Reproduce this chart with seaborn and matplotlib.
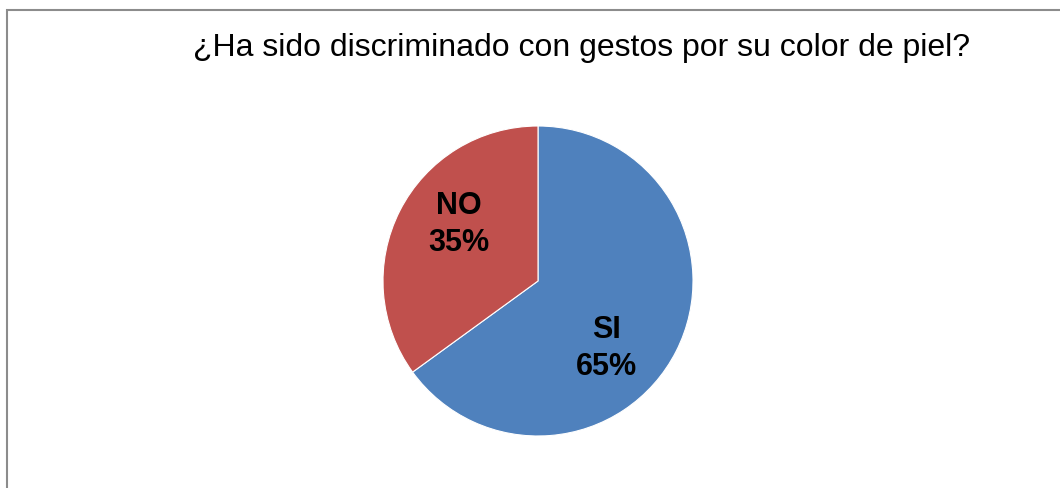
import matplotlib
matplotlib.use("Agg")
import matplotlib.pyplot as plt
import seaborn as sns
from matplotlib.patches import Rectangle

sns.set_theme(style="white")
plt.rcParams['font.family'] = ['Liberation Sans', 'DejaVu Sans']

title = "¿Ha sido discriminado con gestos por su color de piel?"
categories = ['SI', 'NO']
values = [65, 35]
colors = ['#4F81BD', '#C0504D']

W, H = 1060, 489
fig = plt.figure(figsize=(W / 100, H / 100), dpi=100)
fig.patch.set_facecolor('white')

# outer border (right/bottom run off the image like the original)
fig.patches.append(Rectangle((6.5 / W, -0.05), 1.1, 1 - 10.5 / H + 0.05,
                             transform=fig.transFigure, fill=False,
                             edgecolor='#8c8c8c', linewidth=1.5))

fig.text(582 / W, 1 - 48 / H, title, ha='center', va='center',
         fontsize=23, color='black')

r = 155
ax = fig.add_axes([(538 - r) / W, (H - 282 - r) / H, 2 * r / W, 2 * r / H])
wedges, texts, autotexts = ax.pie(
    values, colors=colors, startangle=90, counterclock=False, radius=1,
    autopct=lambda p: '', wedgeprops=dict(edgecolor='white', linewidth=0.8))
ax.set_xlim(-1, 1)
ax.set_ylim(-1, 1)
ax.set_aspect('equal')
ax.axis('off')

label_pos = [(0.44, -0.43), (-0.51, 0.37)]
for t, cat, val, pos in zip(autotexts, categories, values, label_pos):
    t.set_text(f"{cat}\n{val}%")
    t.set_position(pos)
    t.set_ha('center')
    t.set_va('center')
    t.set_linespacing(1.3)
    t.set_fontsize(22)
    t.set_fontweight('bold')
    t.set_color('black')

fig.savefig('out.png', dpi=100)
